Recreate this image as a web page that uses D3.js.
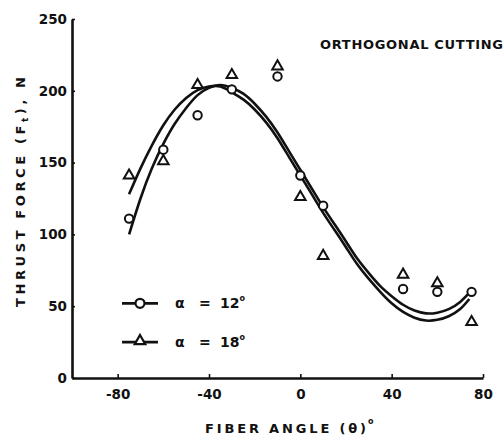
<!DOCTYPE html>
<html>
<head>
<meta charset="utf-8">
<script src="https://cdn.jsdelivr.net/npm/d3@7"></script>
<style>
  body { margin: 0; background: #fff; }
  text { font-family: "DejaVu Sans", sans-serif; font-weight: bold; fill: #111; }
</style>
</head>
<body>
<script>
// measured points, rake angle 12 deg (circles)
const angle12 = [-75, -60, -45, -30, -10, 0, 10, 45, 60, 75]
const force12 = [111, 159, 183, 201, 210, 141, 120, 62, 60, 60]
// measured points, rake angle 18 deg (triangles)
const angle18 = [-75, -60, -45, -30, -10, 0, 10, 45, 60, 75]
const force18 = [141, 151, 204, 211, 217, 126, 85, 72, 66, 39]

// fitted curves
const fitAngle12 = [-75, -70, -65, -60, -55, -50, -45, -40, -35, -30, -25, -20, -15, -10, -5, 0, 5, 10, 15, 20, 25, 30, 35, 40, 45, 50, 55, 60, 65, 70, 75]
const fitForce12 = [100, 125, 146, 163, 177, 188, 197, 202, 204, 202, 198, 191, 182, 171, 158, 145, 132, 119, 107, 95, 83, 73, 64, 57, 51, 47, 45, 45.5, 48, 53, 61]
const fitAngle18 = [-75, -70, -65, -60, -55, -50, -45, -40, -35, -30, -25, -20, -15, -10, -5, 0, 5, 10, 15, 20, 25, 30, 35, 40, 45, 50, 55, 60, 65, 70, 74]
const fitForce18 = [128, 146, 162, 176, 187, 195, 200.5, 203, 203, 199, 194, 187, 178, 167, 154, 141, 128, 115, 103, 91, 79, 69, 60, 52, 46, 42, 40, 40.5, 43, 48, 55]

const xTicks = [-80, -40, 0, 40, 80]
const yTicks = [0, 50, 100, 150, 200, 250]

;(() => {
  const width = 504, height = 440
  const margin = { left: 72, top: 19, right: 21, bottom: 62 }

  const svg = d3.select('body').append('svg')
    .attr('width', width)
    .attr('height', height)

  const x = d3.scaleLinear().domain([-100, 80]).range([margin.left, width - margin.right])
  const y = d3.scaleLinear().domain([0, 250]).range([height - margin.bottom, margin.top])

  // axes, ticks point into the plot
  const xAxis = svg.append('g')
    .attr('transform', `translate(0,${y(0)})`)
    .call(d3.axisBottom(x).tickValues(xTicks).tickSize(-4).tickSizeOuter(0).tickPadding(11)
      .tickFormat(d => d))
  const yAxis = svg.append('g')
    .attr('transform', `translate(${x(-100)},0)`)
    .call(d3.axisLeft(y).tickValues(yTicks).tickSize(-3).tickSizeOuter(0).tickPadding(5))

  ;[xAxis, yAxis].forEach(g => {
    g.select('.domain').attr('stroke', '#111').attr('stroke-width', 2.6)
    g.selectAll('.tick line').attr('stroke', '#111').attr('stroke-width', 1.6)
    g.selectAll('.tick text')
      .style('font-family', '"DejaVu Sans", sans-serif')
      .style('font-weight', 'bold')
      .style('font-size', '13.5px')
      .attr('fill', '#111')
  })

  // fitted curves
  const line = d3.line()
    .x(d => x(d[0]))
    .y(d => y(d[1]))
    .curve(d3.curveNatural)

  const fits = [
    d3.zip(fitAngle12, fitForce12),
    d3.zip(fitAngle18, fitForce18)
  ]
  svg.selectAll('.fit')
    .data(fits)
    .enter()
    .append('path')
    .attr('class', 'fit')
    .attr('d', line)
    .attr('fill', 'none')
    .attr('stroke', '#111')
    .attr('stroke-width', 2.6)

  // markers
  const tri = d3.symbol().type(d3.symbolTriangle).size(48)

  svg.selectAll('.pt12')
    .data(d3.zip(angle12, force12))
    .enter()
    .append('circle')
    .attr('class', 'pt12')
    .attr('cx', d => x(d[0]))
    .attr('cy', d => y(d[1]))
    .attr('r', 4.2)
    .attr('fill', '#fff')
    .attr('stroke', '#111')
    .attr('stroke-width', 2)

  svg.selectAll('.pt18')
    .data(d3.zip(angle18, force18))
    .enter()
    .append('path')
    .attr('class', 'pt18')
    .attr('d', tri)
    .attr('transform', d => `translate(${x(d[0])},${y(d[1])})`)
    .attr('fill', '#fff')
    .attr('stroke', '#111')
    .attr('stroke-width', 2)

  // legend
  const legend = [
    { label: '12', marker: 'circle', yv: 52 },
    { label: '18', marker: 'triangle', yv: 25 }
  ]
  legend.forEach(l => {
    const ly = y(l.yv)
    svg.append('line')
      .attr('x1', 122).attr('x2', 158)
      .attr('y1', ly).attr('y2', ly)
      .attr('stroke', '#111').attr('stroke-width', 2.6)
    if (l.marker === 'circle') {
      svg.append('circle')
        .attr('cx', 140).attr('cy', ly).attr('r', 4.5)
        .attr('fill', '#fff').attr('stroke', '#111').attr('stroke-width', 2.2)
    } else {
      svg.append('path').attr('d', tri)
        .attr('transform', `translate(140,${ly - 1})`)
        .attr('fill', '#fff').attr('stroke', '#111').attr('stroke-width', 2.2)
    }
    const t = svg.append('text').attr('y', ly + 5).style('font-size', '14px')
    t.append('tspan').attr('x', 175).text('α')
    t.append('tspan').attr('x', 199).text('=')
    t.append('tspan').attr('x', 220).text(l.label)
    t.append('tspan').attr('dy', -7).style('font-size', '8px').text('o')
  })

  // titles
  svg.append('text')
    .attr('x', 320).attr('y', 49)
    .attr('textLength', 183).attr('lengthAdjust', 'spacing')
    .style('font-size', '13px')
    .text('ORTHOGONAL CUTTING')

  svg.append('text')
    .attr('x', 205).attr('y', 433)
    .attr('textLength', 161).attr('lengthAdjust', 'spacing')
    .style('font-size', '13px')
    .text('FIBER ANGLE (θ)')
  svg.append('text').attr('x', 368).attr('y', 424).style('font-size', '8px').text('o')

  const yl = svg.append('text')
    .attr('transform', 'translate(25,307) rotate(-90)')
    .attr('textLength', 230).attr('lengthAdjust', 'spacing')
    .style('font-size', '13px')
  yl.append('tspan').text('THRUST FORCE (F')
  yl.append('tspan').attr('dy', 3).style('font-size', '9px').text('t')
  yl.append('tspan').attr('dy', -3).text('), N')
})()
</script>
</body>
</html>
